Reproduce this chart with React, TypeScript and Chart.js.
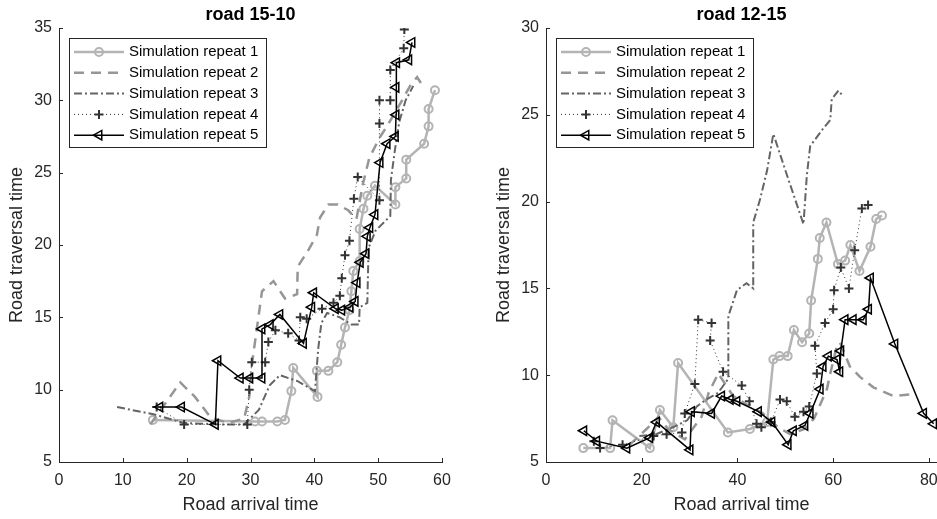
import React, { useEffect, useRef } from "react";
import { Chart, registerables } from "chart.js";

Chart.register(...registerables);

// ---------- text ----------
const SERIES_NAMES = [
  "Simulation repeat 1",
  "Simulation repeat 2",
  "Simulation repeat 3",
  "Simulation repeat 4",
  "Simulation repeat 5",
];
const X_TITLE = "Road arrival time";
const Y_TITLE = "Road traversal time";

// ---------- road 15-10 ----------
const A_TITLE = "road 15-10";
const A_X_LIMITS = [0, 60];
const A_Y_LIMITS = [5, 35];
const A_X_STEP = 10;
const A_Y_STEP = 5;

const A_REP1 = [[14.7,7.9],[30.7,7.8],[31.8,7.8],[34.2,7.8],[35.4,7.9],[36.4,9.9],[36.7,11.5],[40.5,9.5],[40.4,11.3],[42.2,11.3],[43.6,11.9],[44.2,13.1],[44.8,14.3],[45.5,15.5],[45.8,16.8],[46.1,18.2],[47.1,18.9],[47.1,21.1],[47.7,22.5],[48.3,23.4],[49.5,24.1],[52.7,22.8],[52.7,24.0],[54.4,24.6],[54.4,25.9],[57.2,27.0],[57.9,28.2],[57.9,29.4],[58.9,30.7]];
const A_REP2 = [[14.3,7.6],[19.0,10.5],[21.3,9.5],[23.7,8.1],[26.5,7.7],[29.0,8.0],[29.8,9.5],[30.3,12.0],[31.8,16.8],[33.6,17.5],[35.4,16.3],[37.3,16.6],[37.4,18.5],[39.0,19.6],[40.4,20.7],[40.9,21.9],[42.2,22.8],[43.7,22.8],[45.3,22.4],[46.6,21.8],[47.6,24.2],[48.6,26.0],[50.2,27.4],[51.5,28.3],[53.5,29.8],[55.0,31.0],[56.1,31.6],[57.0,31.0]];
const A_REP3 = [[9.1,8.8],[14.8,8.3],[19.5,7.7],[25.0,7.6],[29.0,7.6],[31.3,8.6],[33.0,10.3],[34.6,11.0],[37.3,10.6],[40.1,9.9],[40.6,12.8],[41.1,14.6],[42.0,15.3],[44.0,15.0],[45.8,14.5],[47.0,14.5],[47.1,15.7],[48.3,16.0],[48.5,19.8],[49.6,21.0],[51.9,22.0],[52.0,24.5],[52.6,26.5],[53.3,28.5],[54.3,30.0],[55.5,31.0]];
const A_REP4 = [[15.3,8.8],[19.6,7.6],[29.5,7.6],[29.8,10.0],[30.2,11.9],[32.3,11.9],[32.8,13.3],[33.9,14.1],[35.9,13.9],[37.6,13.4],[37.8,15.0],[38.8,14.9],[41.2,15.6],[43.0,16.0],[44.0,16.5],[44.3,17.7],[44.8,19.3],[45.5,20.3],[46.2,23.2],[46.8,24.7],[50.2,23.1],[50.2,28.4],[50.2,30.0],[51.9,30.0],[51.9,32.1],[54.0,33.6],[54.1,34.9]];
const A_REP5 = [[15.8,8.8],[19.2,8.8],[24.5,7.6],[24.9,12.0],[28.4,10.8],[29.9,10.8],[31.8,10.8],[31.8,14.2],[33.1,14.5],[34.6,15.2],[38.3,13.2],[39.6,15.7],[39.9,16.7],[43.3,15.6],[44.3,15.5],[45.6,15.7],[46.4,16.1],[46.7,17.4],[47.2,18.8],[48.1,19.4],[48.3,20.6],[48.7,21.2],[49.5,22.1],[50.3,25.7],[51.4,27.0],[52.7,27.5],[52.8,29.0],[52.8,30.9],[52.9,32.6],[54.8,32.8],[55.3,34.0]];

// ---------- road 12-15 ----------
const B_TITLE = "road 12-15";
const B_X_LIMITS = [0, 81.7];
const B_Y_LIMITS = [5, 30];
const B_X_STEP = 20;
const B_Y_STEP = 5;

const B_REP1 = [[7.8,5.8],[13.4,5.8],[13.9,7.4],[21.7,5.8],[23.8,8.0],[26.6,7.0],[27.6,10.7],[38.0,6.7],[42.6,6.9],[46.2,7.3],[47.5,10.9],[48.8,11.1],[50.5,11.1],[51.8,12.6],[53.5,11.9],[55.0,12.4],[55.4,14.3],[56.8,16.7],[57.2,17.9],[58.6,18.8],[61.0,16.4],[62.5,16.6],[63.6,17.5],[65.5,16.0],[67.8,17.4],[69.0,19.0],[70.2,19.2]];
const B_REP2 = [[17.5,6.0],[21.0,6.9],[23.5,7.6],[25.5,6.9],[29.0,6.3],[32.5,7.6],[34.0,9.0],[36.0,10.1],[39.1,8.8],[42.0,8.3],[45.3,7.8],[48.5,7.0],[51.0,6.6],[54.0,6.9],[56.0,7.5],[58.7,9.2],[59.4,10.1],[60.7,11.6],[61.4,11.9],[63.5,10.5],[65.6,9.9],[68.4,9.3],[72.6,8.8],[76.1,8.9],[76.7,9.1]];
const B_REP3 = [[19.5,6.5],[23.0,6.6],[26.5,7.0],[29.5,7.4],[31.5,8.2],[33.5,8.6],[36.0,9.0],[38.1,9.8],[38.1,13.4],[39.9,14.9],[41.9,15.3],[43.3,15.0],[43.3,18.8],[44.7,20.1],[46.2,21.8],[47.5,23.9],[50.5,21.4],[53.8,18.7],[54.5,21.5],[55.2,23.2],[57.9,24.2],[59.4,24.7],[59.7,25.9],[61.1,26.4],[62.0,26.1]];
const B_REP4 = [[10.0,6.2],[11.3,5.8],[16.0,6.0],[22.5,6.5],[25.2,6.6],[28.4,6.7],[29.0,7.8],[31.1,9.5],[31.8,13.2],[34.6,13.0],[34.3,12.0],[37.0,10.2],[40.9,9.4],[42.5,8.5],[44.0,7.2],[45.0,7.0],[47.0,7.3],[48.9,8.6],[50.3,8.5],[52.0,7.6],[53.8,7.9],[55.0,8.2],[56.6,10.1],[56.2,11.7],[58.3,13.0],[60.0,13.8],[60.2,14.9],[61.6,16.2],[63.3,15.0],[64.5,17.2],[66.0,19.6],[67.3,19.8]];
const B_REP5 = [[7.9,6.8],[10.6,6.2],[16.9,5.8],[21.7,6.4],[23.1,7.3],[30.1,5.7],[30.4,7.9],[34.6,7.8],[36.7,8.8],[38.5,8.6],[39.9,8.5],[44.4,7.9],[47.2,7.3],[50.6,6.0],[51.7,6.8],[54.1,7.1],[55.2,7.8],[57.3,9.2],[57.9,10.5],[59.0,11.1],[60.8,10.9],[61.4,10.2],[61.6,11.4],[62.5,13.2],[64.2,13.2],[66.3,13.2],[67.4,13.8],[67.8,15.6],[72.9,11.8],[78.9,7.8],[81.0,7.2]];

// ---------- styles ----------
const FONT = '"Liberation Sans", Arial, Helvetica, sans-serif';
const AXIS_COLOR = "#262626";
type Sty = { color: string; width: number; dash: number[]; marker: string | null; mr: number; mw: number };
const STYLES: Sty[] = [
  { color: "#b4b4b4", width: 2.5, dash: [], marker: "circle", mr: 4, mw: 2 },
  { color: "#969696", width: 2.5, dash: [10, 7], marker: null, mr: 0, mw: 0 },
  { color: "#646464", width: 2, dash: [8, 3, 2, 3], marker: null, mr: 0, mw: 0 },
  { color: "#333333", width: 1, dash: [1, 3], marker: "cross", mr: 4.5, mw: 2 },
  { color: "#000000", width: 1.5, dash: [], marker: "triangle", mr: 5.5, mw: 1.5 },
];

const CHART_TOP = 28;
const CHART_BOTTOM = 462;
const CANVAS_H = 519;

function drawMarker(ctx: CanvasRenderingContext2D, s: Sty, x: number, y: number) {
  if (!s.marker) return;
  ctx.save();
  ctx.setLineDash([]);
  ctx.strokeStyle = s.color;
  ctx.lineWidth = s.mw;
  ctx.beginPath();
  if (s.marker === "circle") {
    ctx.arc(x, y, s.mr, 0, Math.PI * 2);
  } else if (s.marker === "cross") {
    ctx.moveTo(x - s.mr, y);
    ctx.lineTo(x + s.mr, y);
    ctx.moveTo(x, y - s.mr);
    ctx.lineTo(x, y + s.mr);
  } else if (s.marker === "triangle") {
    let rad = -Math.PI / 2;
    ctx.moveTo(x + Math.sin(rad) * s.mr, y - Math.cos(rad) * s.mr);
    rad += (2 * Math.PI) / 3;
    ctx.lineTo(x + Math.sin(rad) * s.mr, y - Math.cos(rad) * s.mr);
    rad += (2 * Math.PI) / 3;
    ctx.lineTo(x + Math.sin(rad) * s.mr, y - Math.cos(rad) * s.mr);
    ctx.closePath();
  }
  ctx.stroke();
  ctx.restore();
}

function decorPlugin(title: string) {
  return {
    id: "decor",
    afterDraw(chart: any) {
      const { ctx, chartArea: ca, scales } = chart;
      ctx.save();
      // inward ticks
      ctx.strokeStyle = AXIS_COLOR;
      ctx.lineWidth = 1;
      ctx.beginPath();
      scales.x.ticks.forEach((t: any) => {
        const px = Math.round(scales.x.getPixelForValue(t.value)) + 0.5;
        ctx.moveTo(px, ca.bottom);
        ctx.lineTo(px, ca.bottom - 4);
      });
      scales.y.ticks.forEach((t: any) => {
        const py = Math.round(scales.y.getPixelForValue(t.value)) + 0.5;
        ctx.moveTo(ca.left, py);
        ctx.lineTo(ca.left + 4, py);
      });
      ctx.stroke();
      // title
      ctx.fillStyle = "#000";
      ctx.font = `bold 18px ${FONT}`;
      ctx.textAlign = "center";
      ctx.textBaseline = "alphabetic";
      ctx.fillText(title, (ca.left + ca.right) / 2, 20);
      // legend
      const lx = Math.round(ca.left) + 10;
      const ly = Math.round(ca.top) + 10;
      const lw = 197;
      const lh = 109;
      ctx.fillStyle = "#fff";
      ctx.fillRect(lx, ly, lw, lh);
      ctx.strokeStyle = AXIS_COLOR;
      ctx.lineWidth = 1;
      ctx.strokeRect(lx + 0.5, ly + 0.5, lw, lh);
      STYLES.forEach((s, i) => {
        const cy = ly + 14 + i * 20.8;
        ctx.save();
        ctx.strokeStyle = s.color;
        ctx.lineWidth = s.width;
        ctx.setLineDash(s.dash);
        ctx.beginPath();
        ctx.moveTo(lx + 5, cy);
        ctx.lineTo(lx + 55, cy);
        ctx.stroke();
        ctx.restore();
        drawMarker(ctx, s, lx + 30, cy);
        ctx.fillStyle = "#000";
        ctx.font = `15px ${FONT}`;
        ctx.textAlign = "left";
        ctx.textBaseline = "middle";
        ctx.fillText(SERIES_NAMES[i], lx + 60, cy);
      });
      ctx.restore();
    },
  };
}

function makeDatasets(series: number[][][]) {
  return series.map((arr, i) => {
    const s = STYLES[i];
    return {
      label: SERIES_NAMES[i],
      data: arr.map(([x, y]) => ({ x, y })),
      showLine: true,
      borderColor: s.color,
      borderWidth: s.width,
      borderDash: s.dash,
      backgroundColor: "rgba(0,0,0,0)",
      pointStyle: s.marker || "circle",
      pointRadius: s.marker ? s.mr : 0,
      pointBorderWidth: s.mw,
      pointBorderColor: s.color,
      pointBackgroundColor: "rgba(0,0,0,0)",
      pointRotation: s.marker === "triangle" ? -90 : 0,
      tension: 0,
      order: 5 - i,
    };
  });
}

type PanelProps = {
  left: number;
  width: number;
  padRight: number;
  title: string;
  series: number[][][];
  xLim: number[];
  yLim: number[];
  xStep: number;
  yStep: number;
};

function Panel(p: PanelProps) {
  const ref = useRef<HTMLCanvasElement | null>(null);
  useEffect(() => {
    if (!ref.current) return;
    const tickFont = { family: FONT, size: 16 };
    const titleFont = { family: FONT, size: 18 };
    const chart = new Chart(ref.current, {
      type: "scatter",
      data: { datasets: makeDatasets(p.series) as any },
      options: {
        responsive: false,
        animation: false,
        events: [],
        layout: { autoPadding: false, padding: { top: CHART_TOP, left: 0, right: p.padRight, bottom: 0 } },
        plugins: { legend: { display: false }, tooltip: { enabled: false } },
        scales: {
          x: {
            type: "linear",
            min: p.xLim[0],
            max: p.xLim[1],
            afterFit: (s: any) => {
              s.height = CANVAS_H - CHART_BOTTOM;
              s.paddingLeft = 0;
              s.paddingRight = 0;
            },
            ticks: {
              stepSize: p.xStep,
              includeBounds: false,
              padding: 9,
              color: AXIS_COLOR,
              font: tickFont,
              maxRotation: 0,
              autoSkip: false,
            },
            grid: { display: false, drawTicks: false },
            border: { display: true, color: AXIS_COLOR, width: 1 },
            title: { display: true, text: X_TITLE, color: AXIS_COLOR, font: titleFont, padding: { top: 0, bottom: 3 } },
          },
          y: {
            type: "linear",
            min: p.yLim[0],
            max: p.yLim[1],
            afterFit: (s: any) => {
              s.width = 59;
              s.paddingTop = 0;
              s.paddingBottom = 0;
            },
            ticks: {
              stepSize: p.yStep,
              includeBounds: false,
              padding: 7,
              color: AXIS_COLOR,
              font: tickFont,
              autoSkip: false,
            },
            grid: { display: false, drawTicks: false },
            border: { display: true, color: AXIS_COLOR, width: 1 },
            title: { display: true, text: Y_TITLE, color: AXIS_COLOR, font: titleFont, padding: { top: 6, bottom: 0 } },
          },
        },
      } as any,
      plugins: [decorPlugin(p.title)],
    });
    return () => chart.destroy();
  }, []);
  return (
    <canvas
      ref={ref}
      width={p.width}
      height={CANVAS_H}
      style={{ position: "absolute", left: p.left, top: 0, width: p.width, height: CANVAS_H, display: "block" }}
    />
  );
}

export default function App() {
  return (
    <div style={{ position: "absolute", left: 0, top: 0, width: 937, height: CANVAS_H, background: "#fff", overflow: "hidden" }}>
      <Panel
        left={0}
        width={470}
        padRight={28}
        title={A_TITLE}
        series={[A_REP1, A_REP2, A_REP3, A_REP4, A_REP5]}
        xLim={A_X_LIMITS}
        yLim={A_Y_LIMITS}
        xStep={A_X_STEP}
        yStep={A_Y_STEP}
      />
      <Panel
        left={487}
        width={450}
        padRight={0}
        title={B_TITLE}
        series={[B_REP1, B_REP2, B_REP3, B_REP4, B_REP5]}
        xLim={B_X_LIMITS}
        yLim={B_Y_LIMITS}
        xStep={B_X_STEP}
        yStep={B_Y_STEP}
      />
    </div>
  );
}
